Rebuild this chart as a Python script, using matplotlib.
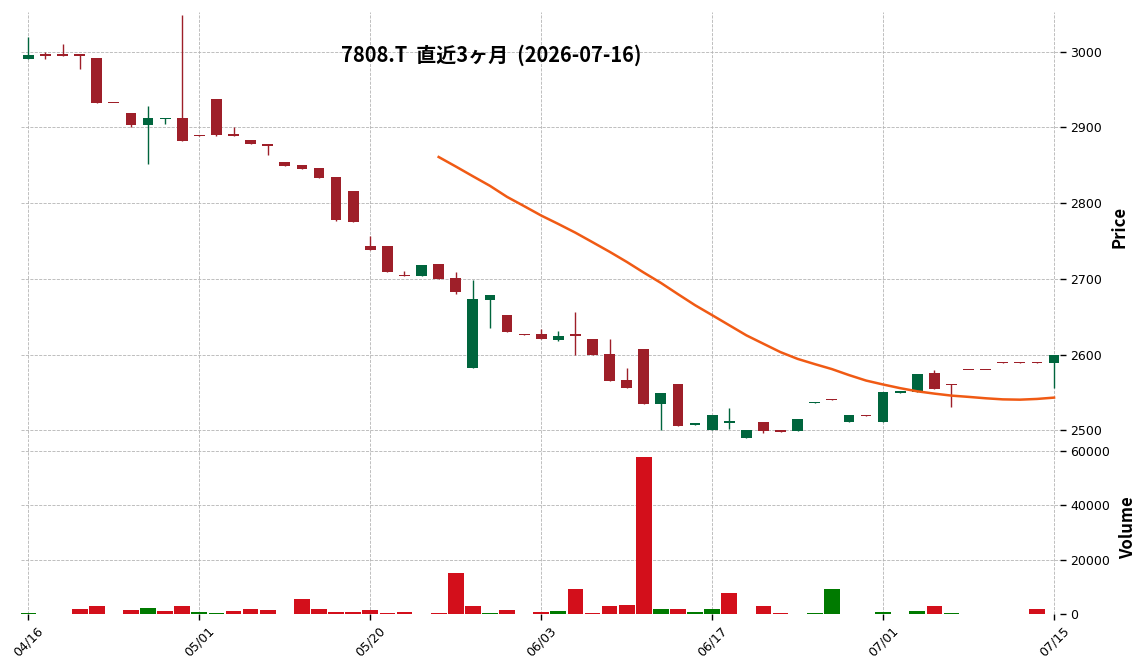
import matplotlib
matplotlib.use("Agg")
import matplotlib.pyplot as plt
import numpy as np
import pandas as pd

# trading days (TSE holidays removed)
holidays = ["2026-04-29", "2026-05-04", "2026-05-05", "2026-05-06"]
dates = pd.bdate_range("2026-04-16", "2026-07-15")
dates = dates[~dates.isin(pd.to_datetime(holidays))]

opens = [2990, 2996, 2996, 2996, 2992, 2933, 2919, 2903, 2911, 2913,
         2890, 2938, 2892, 2884, 2878, 2854, 2850, 2846, 2834, 2816,
         2743, 2743, 2705, 2704, 2719, 2701, 2582, 2672, 2652, 2627,
         2627, 2619, 2626, 2620, 2601, 2566, 2607, 2535, 2561, 2507,
         2500, 2510, 2490, 2511, 2500, 2499, 2536, 2541, 2511, 2520,
         2511, 2549, 2551, 2575, 2561, 2580, 2580, 2590, 2590, 2590,
         2589]
highs = [3020, 3000, 3010, 2996, 2992, 2933, 2919, 2928, 2913, 3049,
         2890, 2938, 2900, 2884, 2878, 2854, 2850, 2846, 2834, 2816,
         2757, 2743, 2710, 2718, 2720, 2709, 2699, 2678, 2652, 2627,
         2634, 2631, 2656, 2620, 2620, 2582, 2607, 2549, 2561, 2510,
         2520, 2529, 2500, 2511, 2500, 2515, 2537, 2541, 2520, 2520,
         2551, 2552, 2574, 2580, 2561, 2580, 2580, 2590, 2590, 2590,
         2600]
lows = [2990, 2991, 2995, 2977, 2932, 2932, 2900, 2852, 2904, 2882,
        2889, 2889, 2889, 2878, 2864, 2849, 2845, 2833, 2776, 2775,
        2738, 2709, 2704, 2704, 2700, 2680, 2582, 2635, 2630, 2626,
        2621, 2618, 2600, 2599, 2565, 2556, 2535, 2500, 2506, 2507,
        2500, 2501, 2490, 2496, 2498, 2499, 2536, 2540, 2511, 2519,
        2511, 2549, 2551, 2554, 2530, 2579, 2579, 2589, 2589, 2589,
        2556]
closes = [2996, 2995, 2995, 2995, 2932, 2932, 2903, 2913, 2913, 2882,
          2889, 2890, 2889, 2878, 2875, 2849, 2845, 2833, 2778, 2775,
          2738, 2709, 2704, 2718, 2700, 2682, 2673, 2678, 2630, 2626,
          2621, 2625, 2625, 2599, 2565, 2556, 2535, 2549, 2506, 2510,
          2520, 2512, 2500, 2499, 2498, 2515, 2537, 2540, 2520, 2519,
          2551, 2552, 2574, 2554, 2560, 2579, 2579, 2589, 2589, 2589,
          2600]
volumes = [400, 0, 0, 1800, 3000, 0, 1500, 2200, 1100, 3000,
           700, 400, 1100, 1800, 1500, 0, 5600, 1800, 700, 700,
           1500, 400, 700, 0, 400, 15200, 3000, 400, 1500, 0,
           700, 1100, 9300, 400, 3000, 3300, 57800, 1800, 1800, 700,
           1800, 7800, 0, 3000, 400, 0, 400, 9300, 0, 0,
           700, 0, 1100, 3000, 400, 0, 0, 0, 0, 1800,
           0]

title = "7808.T  直近3ヶ月  (2026-07-16)"
mav = 25

df = pd.DataFrame({"Open": opens, "High": highs, "Low": lows,
                   "Close": closes, "Volume": volumes}, index=dates)
x = np.arange(len(df))

CJK = ["Noto Sans CJK JP", "DejaVu Sans"]
up_c, dn_c = "#00653d", "#9e1f29"
vup_c, vdn_c = "#007a00", "#d30f1b"

fig = plt.figure(figsize=(11.44, 6.70), dpi=100)
ax = fig.add_axes([0.0181, 0.341, 0.9085, 0.6415])
axv = fig.add_axes([0.0181, 0.0836, 0.9085, 0.2574], sharex=ax)

# candles
rising = df["Close"] > df["Open"]
ccols = np.where(rising, up_c, dn_c)
ax.vlines(x, df["Low"], df["High"], colors=ccols, lw=1.0, zorder=2)
body_lo = np.minimum(df["Open"], df["Close"])
body_h = np.maximum((df["Close"] - df["Open"]).abs(), 1.5)
ax.bar(x, body_h, bottom=body_lo, width=0.63, color=ccols, zorder=3)

ma = df["Close"].rolling(mav).mean()
ax.plot(x, ma, color="#f05a14", lw=1.8, zorder=4)

# volume, coloured against previous close
vrise = df["Close"].diff().fillna(1) > 0
axv.bar(x, df["Volume"], width=0.92, color=np.where(vrise, vup_c, vdn_c), zorder=2)

ax.set_xlim(-0.45, len(df) - 0.65)
ax.set_ylim(2485, 3053)
axv.set_ylim(0, 63500)

ticks = x[::10]
axv.set_xticks(ticks)
axv.set_xticklabels([d.strftime("%m/%d") for d in dates[ticks]],
                    rotation=45, ha="center", fontsize=9)

ax.set_yticks([2500, 2600, 2700, 2800, 2900, 3000])
axv.set_yticks([0, 20000, 40000, 60000])

for a in (ax, axv):
    for s in a.spines.values():
        s.set_visible(False)
    a.yaxis.tick_right()
    a.yaxis.set_label_position("right")
    a.tick_params(axis="y", labelsize=9, length=4, width=1)
    a.grid(True, linestyle="--", linewidth=0.6, color="#b4b4b4", zorder=0)
    a.set_axisbelow(True)

ax.tick_params(axis="x", length=0, labelbottom=False)
axv.tick_params(axis="x", length=4, width=1)

ax.set_ylabel("Price", family=CJK, fontsize=12, fontweight="bold", labelpad=6)
axv.set_ylabel("Volume", family=CJK, fontsize=12, fontweight="bold", labelpad=6)

fig.text(0.429, 0.917, title, family=CJK, fontsize=14.4, fontweight="bold",
         ha="center", va="center")

fig.savefig("out.png")
